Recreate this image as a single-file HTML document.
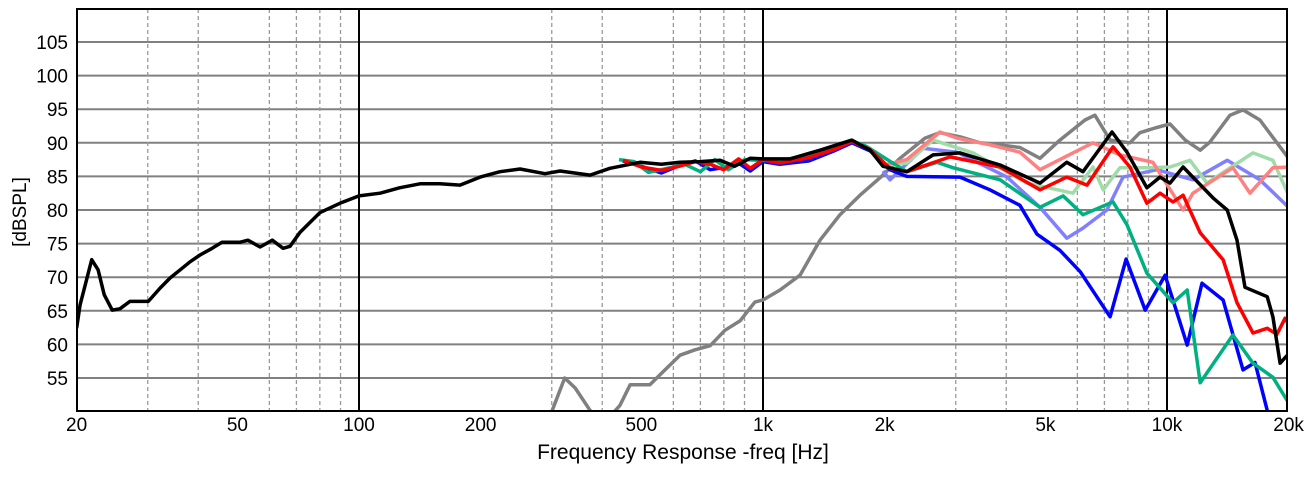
<!DOCTYPE html>
<html><head><meta charset="utf-8"><style>
body{margin:0;background:#fff}
svg text{font-family:"Liberation Sans",sans-serif;fill:#000}
</style></head><body>
<svg id="chart" width="1304" height="472" xmlns="http://www.w3.org/2000/svg">
<defs><clipPath id="plotclip"><rect x="77" y="9" width="1210" height="402"/></clipPath></defs>
<g id="grid"></g>
<g id="series" clip-path="url(#plotclip)"></g>
<rect x="77" y="9" width="1210" height="402" fill="none" stroke="#000" stroke-width="2"/>
<g id="labels"></g>
<text x="683" y="459" font-size="21" text-anchor="middle">Frequency Response -freq [Hz]</text>
<text transform="translate(26,212) rotate(-90)" font-size="19" text-anchor="middle">[dBSPL]</text>
</svg>
<script>
const yTicks=[55,60,65,70,75,80,85,90,95,100,105];
const xTickLabels=[20,50,100,200,500,1000,2000,5000,10000,20000];
const xTickText=["20","50","100","200","500","1k","2k","5k","10k","20k"];
const minorFreqs=[30,40,60,70,80,90,300,400,600,700,800,900,3000,4000,6000,7000,8000,9000];
const majorFreqs=[100,1000,10000];

const blackF=[20,20.4,21.1,21.8,22.6,23.4,24.5,25.6,27.1,30.1,32.2,34.1,36.1,38.2,40.4,43.3,45.8,50.7,53.1,56.9,61,64.9,67.5,71.5,80,89.7,100,112.7,126,141.6,158.6,177.8,199.4,223.4,250.5,288.7,314.6,373,418,496,560,623,700,783,850,929,1000,1166,1384,1660,1841,1982,2270,2636,3073,3862,4850,5650,6195,7310,7960,8920,9610,10170,10960,13000,14090,14900,15600,17700,18290,19050,20000];
const blackV=[62.4,65.9,69.3,72.6,71.1,67.4,65.1,65.3,66.4,66.4,68.4,69.9,71.1,72.3,73.3,74.3,75.2,75.2,75.5,74.5,75.5,74.3,74.6,76.7,79.6,81.0,82.1,82.5,83.3,83.9,83.9,83.7,84.9,85.7,86.1,85.4,85.8,85.2,86.2,87.1,86.8,87.1,87.2,87.4,86.5,87.7,87.6,87.6,88.9,90.4,88.9,86.5,85.7,88.2,88.5,86.7,84.0,87.1,85.7,91.6,88.6,83.3,84.9,84.0,86.4,81.8,80.0,75.5,68.5,67.1,64.1,57.2,58.6];

const blueF=[450,500,560,620,680,740,800,870,930,1000,1100,1300,1500,1660,1841,2062,2270,3073,3645,4325,4766,5432,6100,7230,7920,8830,9890,11220,12210,13770,15420,16510,17700,20000];
const blueV=[87.3,86.5,85.5,86.6,87.3,86.0,86.3,87.0,85.8,87.2,86.8,87.3,88.8,90.0,88.8,86.0,85.0,84.9,83.0,80.7,76.4,74.0,70.8,64.1,72.7,65.1,70.3,59.9,69.1,66.6,56.2,57.3,50.2,46];

const greenF=[440,480,520,580,640,700,760,820,900,980,1100,1300,1500,1660,1800,1982,2270,2697,2951,3862,4850,5530,6195,7350,7960,8920,10350,11220,12080,14560,16330,18290,20000];
const greenV=[87.5,87.2,85.6,86.2,86.8,85.7,87.5,86.0,87.5,87.4,87.3,88.2,89.4,90.3,89.5,87.9,85.7,87.1,86.3,84.5,80.4,82.1,79.3,81.2,77.8,70.6,66.2,68.1,54.3,61.4,57.2,55.1,51.3];

const redF=[450,500,560,620,680,740,800,870,930,1000,1100,1300,1500,1660,1841,2062,2270,2904,3862,4850,5650,6340,7350,8095,8920,9610,10350,10960,12080,13770,14900,16330,17700,18710,19600,20000];
const redV=[87.4,86.4,85.9,86.5,87.2,86.8,86.0,87.6,86.2,87.5,87.0,87.8,89.0,90.2,89.0,86.2,85.7,87.9,86.4,83.0,84.9,83.7,89.4,86.4,81.0,82.5,81.2,82.2,76.6,72.6,66.2,61.7,62.4,61.5,63.9,63];

const lredF=[1982,2270,2741,3020,3645,4325,4850,5850,6560,7650,9230,10960,11590,14560,16050,18290,20000];
const lredV=[86.6,87.5,91.6,90.7,89.7,88.6,86.0,88.5,90.0,88.2,87.1,80.0,82.5,86.3,82.5,86.3,86.4];

const lblueF=[1982,2062,2489,3020,4018,4850,5650,6195,7100,7780,9440,11590,14090,16980,20000];
const lblueV=[85.8,84.5,89.2,88.6,84.9,80.4,75.8,77.3,80.0,84.9,86.0,84.5,87.4,84.5,80.4];

const lgreenF=[1982,2270,2636,3311,4500,5850,6560,6950,7650,8920,10170,11400,12560,16330,18290,20000];
const lgreenV=[86.6,87.0,90.4,88.5,84.0,82.5,86.4,83.0,86.3,86.3,86.4,87.4,84.0,88.5,87.4,82.2];

const grayF=[280,301,323,343,373,400,442,469,525,572,623,679,740,805,877,955,1000,1102,1235,1384,1551,1738,1949,2183,2518,2741,3073,3444,3862,4325,4850,5432,6266,6630,7230,8095,8570,9340,10170,11090,12080,12770,14320,15420,16980,18500,20000];
const grayV=[47,50.2,55.0,53.5,50.2,48,50.9,54.0,54.0,56.2,58.4,59.2,59.8,62.1,63.5,66.3,66.6,68.1,70.3,75.5,79.3,82.2,84.8,87.7,90.7,91.5,90.9,90.0,89.7,89.3,87.7,90.4,93.4,94.1,90.4,90.0,91.5,92.2,92.8,90.4,88.9,90.1,94.1,94.9,93.4,90.4,87.7];

function X(f){return 763+404*Math.log10(f/1000);}
function Y(v){return 42+(105-v)*6.72;}
const NS="http://www.w3.org/2000/svg";
const grid=document.getElementById('grid'),lab=document.getElementById('labels'),ser=document.getElementById('series');
function mk(tag,attrs,parent){const e=document.createElementNS(NS,tag);for(const k in attrs)e.setAttribute(k,attrs[k]);parent.appendChild(e);return e;}
yTicks.forEach(v=>{
  const l=mk('line',{x1:77,x2:1287,y1:Y(v),y2:Y(v),stroke:'#808080','stroke-width':2},grid);
  
  
  const t=mk('text',{x:68,y:Y(v)+7,'font-size':19,'text-anchor':'end'},lab);
  t.textContent=v;
  
  
});
minorFreqs.forEach(f=>{
  const l=mk('line',{x1:X(f),x2:X(f),y1:9,y2:411,stroke:'#999','stroke-width':1.3,'stroke-dasharray':'4,3'},grid);
  
  
});
majorFreqs.forEach(f=>{
  const l=mk('line',{x1:X(f),x2:X(f),y1:9,y2:411,stroke:'#000','stroke-width':2},grid);
  
  
});
xTickLabels.forEach((f,i)=>{
  const t=mk('text',{x:X(f),y:431,'font-size':19,'text-anchor':'middle'},lab);
  t.textContent=xTickText[i];
  
  
});
function draw(F,V,color,name){
  const d=F.map((f,i)=>(i?'L':'M')+X(f).toFixed(1)+','+Y(V[i]).toFixed(1)).join(' ');
  const p=mk('path',{d:d,fill:'none',stroke:color,'stroke-width':3.5,'stroke-linejoin':'round'},ser);
  
  
}
draw(grayF,grayV,'#808080','series-gray');
draw(lblueF,lblueV,'#8080ff','series-light-blue');
draw(lgreenF,lgreenV,'#a0dca8','series-light-green');
draw(lredF,lredV,'#ff8080','series-light-red');
draw(blueF,blueV,'#0000ff','series-blue');
draw(greenF,greenV,'#00b080','series-green');
draw(redF,redV,'#ff0000','series-red');
draw(blackF,blackV,'#000000','series-black');
</script>
</body></html>
